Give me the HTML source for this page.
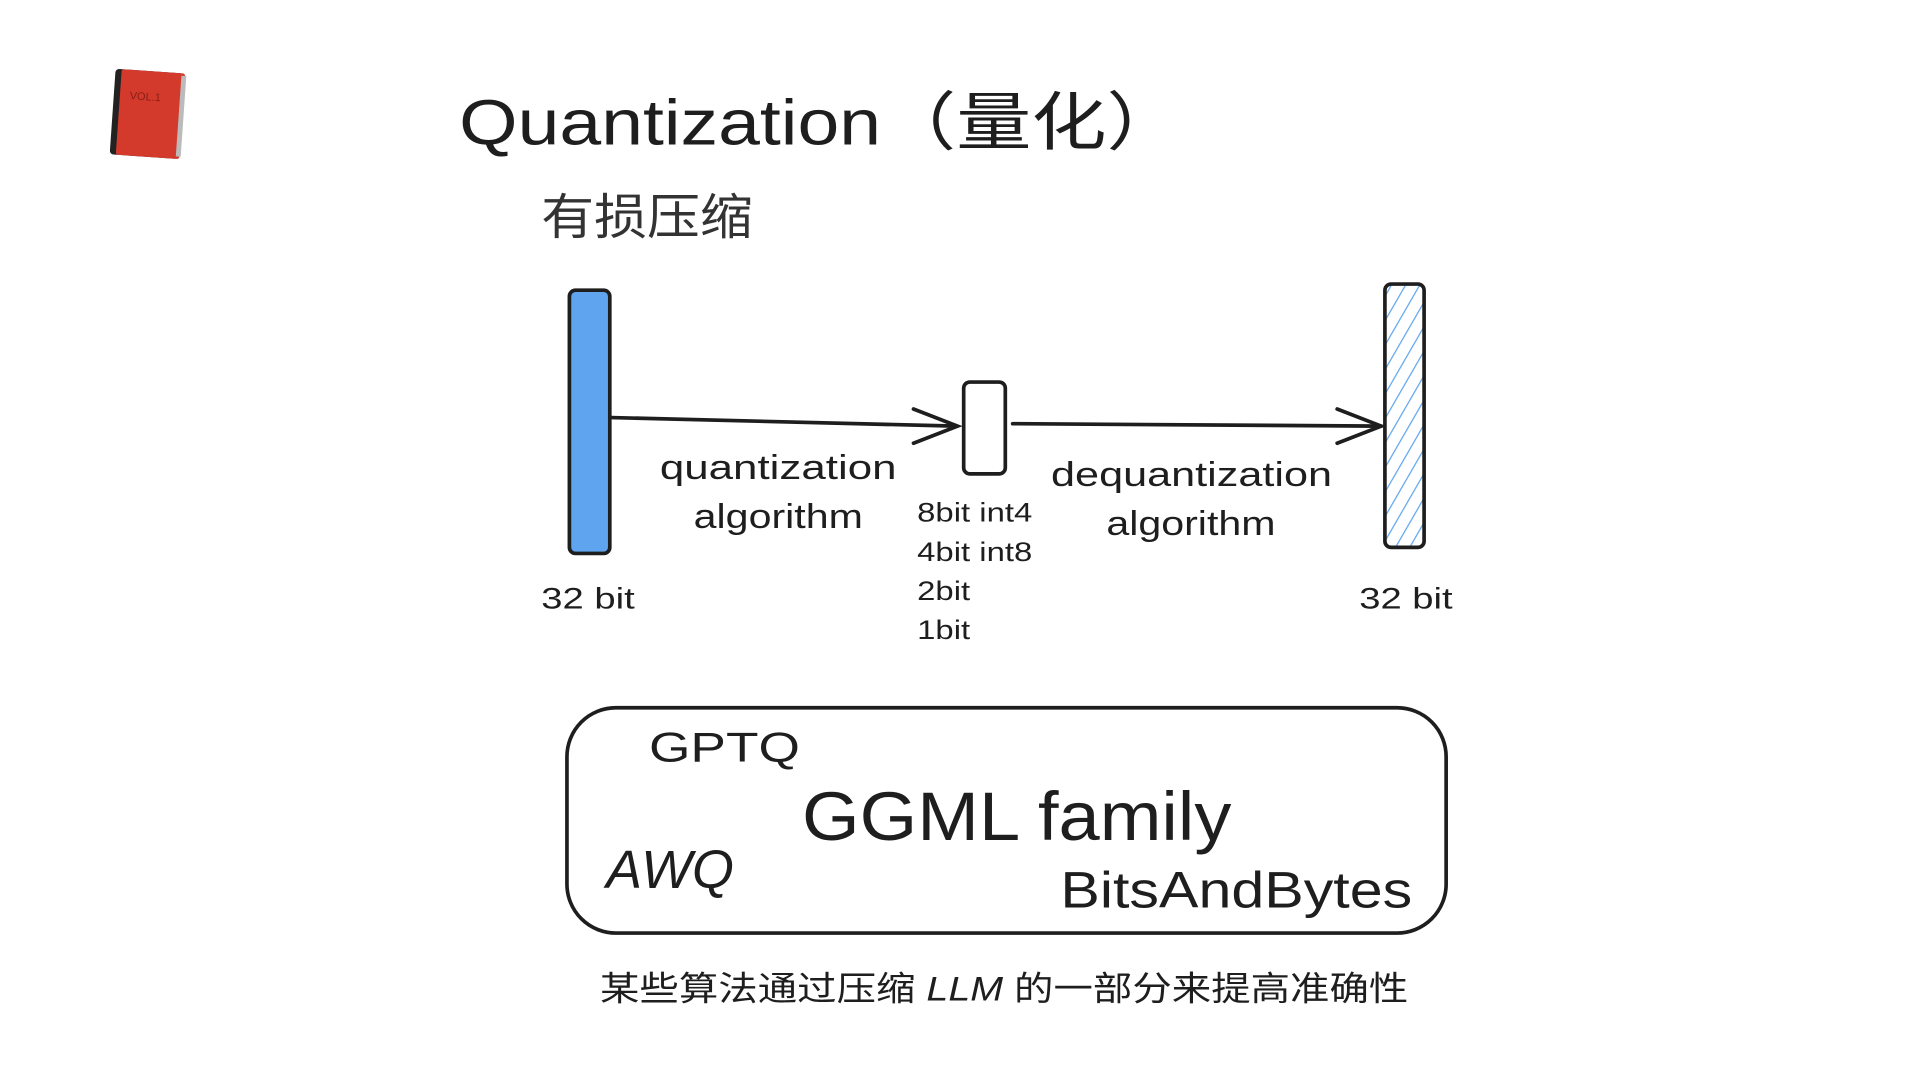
<!DOCTYPE html>
<html><head><meta charset="utf-8"><style>
html,body{margin:0;padding:0;background:#fff;width:1920px;height:1080px;overflow:hidden}
#s{position:absolute;left:0;top:0;width:1568px;height:882px;transform:scale(1.2245);transform-origin:0 0}
.t{position:absolute;font-family:"Liberation Sans","Noto Sans CJK SC",sans-serif;color:#1e1e1e;white-space:nowrap;transform-origin:0 0}
</style></head><body><div id="s">
<svg width="1568" height="882" style="position:absolute;left:0;top:0">
<defs><pattern id="h" width="10" height="10" patternUnits="userSpaceOnUse" patternTransform="rotate(30)"><line x1="0" y1="0" x2="0" y2="10" stroke="#5ea4ee" stroke-width="2"/></pattern></defs>
<g transform="rotate(4 120 92)">
<rect x="92" y="58" width="56" height="70" rx="3" fill="#222"/>
<rect x="97" y="58" width="52" height="70" rx="2" fill="#d33a2c"/>
<rect x="146" y="60" width="4" height="66" fill="#bbb"/>
<text x="105" y="82" font-size="9" fill="#8a1d14" font-family="Liberation Sans">VOL.1</text>
</g>
<rect x="465" y="237" width="33" height="215" rx="5" fill="#5ea4ee" stroke="#1e1e1e" stroke-width="3"/>
<rect x="1131" y="232" width="32" height="215" rx="5" fill="url(#h)" stroke="#1e1e1e" stroke-width="3"/>
<rect x="787" y="312" width="34" height="75" rx="5" fill="#fff" stroke="#1e1e1e" stroke-width="3"/>
<g stroke="#1e1e1e" stroke-width="3" fill="none" stroke-linecap="round">
<line x1="499" y1="341" x2="781" y2="348"/>
<polyline points="746,334 782,348 746,362"/>
<line x1="827" y1="346" x2="1128" y2="348"/>
<polyline points="1092,334 1128,348 1092,362"/>
<rect x="463" y="578" width="718" height="184" rx="40"/>
</g>
</svg>
<div class="t" style="left:375px;top:58px;font-size:52px;transform:scaleX(1.18)">Quantization（量化）</div>
<div class="t" style="left:442px;top:145px;font-size:40px;color:#333;transform:scaleX(1.08)">有损压缩</div>
<div class="t" style="left:538px;top:362px;font-size:28px;width:195px;text-align:center;line-height:40px;transform:scaleX(1.0)"><span style="display:inline-block;transform:scaleX(1.28)">quantization</span><br><span style="display:inline-block;transform:scaleX(1.2)">algorithm</span></div>
<div class="t" style="left:858px;top:368px;font-size:28px;width:230px;text-align:center;line-height:40px"><span style="display:inline-block;transform:scaleX(1.26)">dequantization</span><br><span style="display:inline-block;transform:scaleX(1.2)">algorithm</span></div>
<div class="t" style="left:749px;top:403px;font-size:22px;line-height:32px;transform:scaleX(1.22)">8bit int4<br>4bit int8<br>2bit<br>1bit</div>
<div class="t" style="left:442px;top:476px;font-size:24px;transform:scaleX(1.3)">32 bit</div>
<div class="t" style="left:1110px;top:476px;font-size:24px;transform:scaleX(1.3)">32 bit</div>
<div class="t" style="left:530px;top:592px;font-size:34px;transform:scaleX(1.28)">GPTQ</div>
<div class="t" style="left:655px;top:634px;font-size:56px;transform:scaleX(1.08)">GGML family</div>
<div class="t" style="left:495px;top:686px;font-size:44px;font-style:italic">AWQ</div>
<div class="t" style="left:866px;top:703px;font-size:42px;transform:scaleX(1.15)">BitsAndBytes</div>
<div class="t" style="left:490px;top:786px;font-size:28px;transform:scaleX(1.15)">某些算法通过压缩 <i>LLM</i> 的一部分来提高准确性</div>
</div></body></html>
